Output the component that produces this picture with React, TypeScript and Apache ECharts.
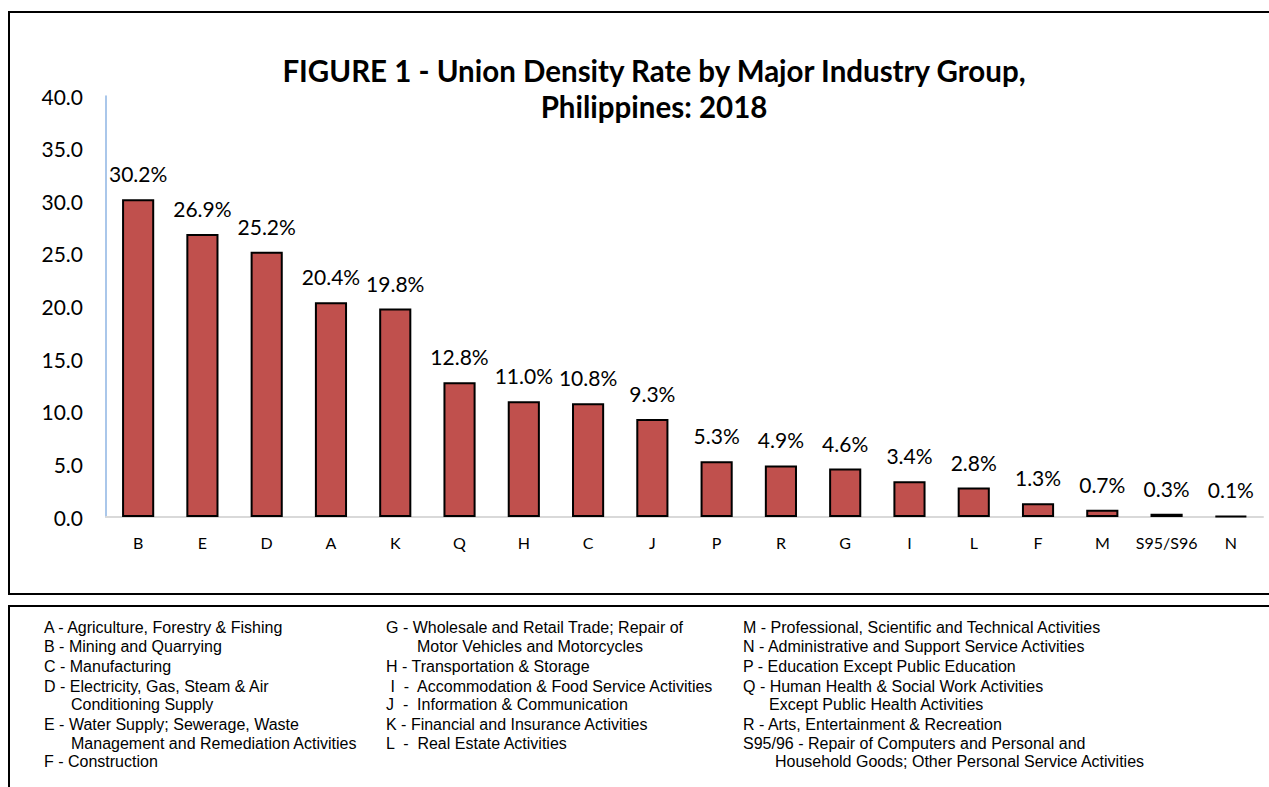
import React, { useEffect, useRef } from "react";
import * as echarts from "echarts";

const categories = ["B", "E", "D", "A", "K", "Q", "H", "C", "J", "P", "R", "G", "I", "L", "F", "M", "S95/S96", "N"];
const values = [30.2, 26.9, 25.2, 20.4, 19.8, 12.8, 11.0, 10.8, 9.3, 5.3, 4.9, 4.6, 3.4, 2.8, 1.3, 0.7, 0.3, 0.1];
const titleLines = ["FIGURE 1 - Union Density Rate by Major Industry Group,", "Philippines: 2018"];

// legend columns: [text, indented?]
const legendCol1: [string, boolean][] = [
  ["A - Agriculture, Forestry & Fishing", false],
  ["B - Mining and Quarrying", false],
  ["C - Manufacturing", false],
  ["D - Electricity, Gas, Steam & Air", false],
  ["Conditioning Supply", true],
  ["E - Water Supply; Sewerage, Waste", false],
  ["Management and Remediation Activities", true],
  ["F - Construction", false],
];
const legendCol2: [string, boolean][] = [
  ["G - Wholesale and Retail Trade; Repair of", false],
  ["Motor Vehicles and Motorcycles", true],
  ["H - Transportation & Storage", false],
  [" I  -  Accommodation & Food Service Activities", false],
  ["J  -  Information & Communication", false],
  ["K - Financial and Insurance Activities", false],
  ["L  -  Real Estate Activities", false],
];
const legendCol3: [string, boolean][] = [
  ["M - Professional, Scientific and Technical Activities", false],
  ["N - Administrative and Support Service Activities", false],
  ["P - Education Except Public Education", false],
  ["Q - Human Health & Social Work Activities", false],
  ["Except Public Health Activities", true],
  ["R - Arts, Entertainment & Recreation", false],
  ["S95/96 - Repair of Computers and Personal and", false],
  ["Household Goods; Other Personal Service Activities", true],
];

const rowY = [627, 646, 666, 686, 704, 724, 743, 761];

export default function App() {
  const ref = useRef<HTMLDivElement>(null);
  useEffect(() => {
    if (!ref.current) return;
    const chart = echarts.init(ref.current, null, { renderer: "svg" });
    const mkCol = (col: [string, boolean][], x: number, indent: number, ys: number[]) =>
      col.map(([t, ind], i) => ({
        type: "text",
        x: ind ? x + indent : x,
        y: ys[i],
        style: {
          text: t,
          fill: "#000",
          fontSize: 16,
          fontFamily: "Liberation Sans",
          fontWeight: "normal",
          verticalAlign: "middle",
        },
      }));
    const col2Y = [627, 646, 666, 686, 704, 724, 743];
    const graphics: any[] = [
      { type: "rect", shape: { x: 9, y: 12, width: 1270, height: 582 }, style: { fill: "none", stroke: "#000", lineWidth: 2 } },
      { type: "rect", shape: { x: 9, y: 606, width: 1270, height: 200 }, style: { fill: "none", stroke: "#000", lineWidth: 2 } },
      ...titleLines.map((t, i) => ({
        type: "text",
        x: 654,
        y: 70 + i * 36,
        style: {
          text: t,
          fill: "#000",
          fontSize: 29.5,
          fontWeight: "bold",
          fontFamily: "Lato",
          align: "center",
          verticalAlign: "middle",
        },
      })),
      ...mkCol(legendCol1, 44, 27, rowY),
      ...mkCol(legendCol2, 386, 31, col2Y),
      ...mkCol(legendCol3, 743, 26, rowY),
    ];
    const last = graphics[graphics.length - 1];
    last.x = 775;

    chart.setOption({
      animation: false,
      backgroundColor: "#fff",
      grid: { left: 106, right: 6, top: 96, bottom: 270, containLabel: false },
      xAxis: {
        type: "category",
        data: categories,
        axisLine: { show: true, lineStyle: { color: "#D9D9D9", width: 2 } },
        axisTick: { show: false },
        axisLabel: { color: "#000", fontSize: 16, fontFamily: "Lato, sans-serif", margin: 17, interval: 0 },
      },
      yAxis: {
        type: "value",
        min: 0,
        max: 40,
        interval: 5,
        splitLine: { show: false },
        axisLine: { show: true, lineStyle: { color: "#8EB4E3", width: 1.5 } },
        axisTick: { show: false },
        axisLabel: {
          color: "#000",
          fontSize: 21,
          fontFamily: "Lato, sans-serif",
          margin: 23,
          formatter: (v: number) => v.toFixed(1),
        },
      },
      series: [
        {
          type: "bar",
          data: values,
          barWidth: "50%",
          itemStyle: { color: "#C0504D", borderColor: "#000", borderWidth: 2 },
          label: {
            show: true,
            position: "top",
            distance: 15,
            color: "#000",
            fontSize: 21,
            fontFamily: "Lato, sans-serif",
            formatter: (p: any) => p.value.toFixed(1) + "%",
          },
        },
      ],
      graphic: graphics,
    });
    return () => chart.dispose();
  }, []);
  return <div ref={ref} style={{ position: "fixed", left: 0, top: 0, width: 1269, height: 787, background: "#fff" }} />;
}
